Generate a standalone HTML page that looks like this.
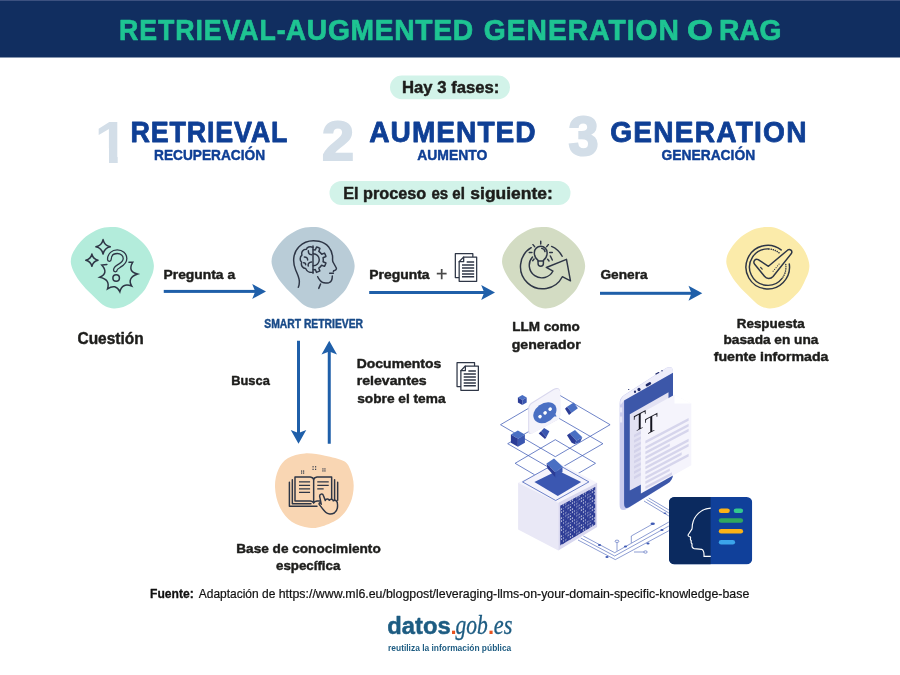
<!DOCTYPE html>
<html lang="es">
<head>
<meta charset="utf-8">
<title>Retrieval-Augmented Generation o RAG</title>
<style>
html,body{margin:0;padding:0;background:#fff;}
body{width:900px;height:675px;overflow:hidden;font-family:"Liberation Sans",sans-serif;}
svg{display:block;will-change:transform;}
text{white-space:pre;}
</style>
</head>
<body>
<svg width="900" height="675" viewBox="0 0 900 675">

<rect x="0" y="0" width="900" height="57.5" fill="#112e60"/>
<rect x="0" y="0" width="900" height="1" fill="#3c5180"/>
<rect x="390" y="75.5" width="120" height="23.7" rx="11.85" fill="#d2f3e9"/>
<rect x="329.5" y="181" width="241" height="24" rx="12" fill="#d2f3e9"/>
<path d="M110.5,227.1C114.4,226.9 118.1,227.1 121.8,228.4C125.6,229.7 129.8,232.4 133.2,234.7C136.5,236.9 139.4,239.4 141.8,241.7C144.3,244.1 146.2,246.2 147.8,248.7C149.5,251.2 150.8,254.0 151.8,256.7C152.8,259.3 153.6,262.2 153.8,264.7C154.1,267.1 153.6,269.2 153.2,271.3C152.7,273.4 152.3,274.4 151.0,277.3C149.7,280.2 147.3,285.6 145.4,288.7C143.5,291.7 141.7,293.4 139.6,295.6C137.4,297.8 135.2,300.1 132.5,302.0C129.8,303.9 126.3,306.0 123.2,307.1C120.1,308.1 116.7,308.5 113.8,308.4C110.9,308.3 108.3,307.6 105.8,306.5C103.4,305.4 101.4,303.6 99.2,301.7C96.9,299.9 94.7,297.5 92.5,295.3C90.3,293.2 87.9,290.9 85.8,288.7C83.8,286.4 81.8,284.2 80.1,282.0C78.4,279.8 76.9,277.6 75.6,275.3C74.3,273.1 73.2,270.9 72.4,268.7C71.6,266.4 70.9,264.2 70.8,262.0C70.7,259.8 71.1,257.6 71.8,255.3C72.6,253.1 73.7,250.9 75.2,248.7C76.6,246.4 78.3,244.0 80.5,241.7C82.7,239.5 85.1,237.2 88.1,235.1C91.1,233.0 94.8,230.5 98.5,229.2C102.2,227.9 106.6,227.2 110.5,227.1Z" fill="#b3ecdb"/>
<path d="M110.5,227.1C114.4,226.9 118.1,227.1 121.8,228.4C125.6,229.7 129.8,232.4 133.2,234.7C136.5,236.9 139.4,239.4 141.8,241.7C144.3,244.1 146.2,246.2 147.8,248.7C149.5,251.2 150.8,254.0 151.8,256.7C152.8,259.3 153.6,262.2 153.8,264.7C154.1,267.1 153.6,269.2 153.2,271.3C152.7,273.4 152.3,274.4 151.0,277.3C149.7,280.2 147.3,285.6 145.4,288.7C143.5,291.7 141.7,293.4 139.6,295.6C137.4,297.8 135.2,300.1 132.5,302.0C129.8,303.9 126.3,306.0 123.2,307.1C120.1,308.1 116.7,308.5 113.8,308.4C110.9,308.3 108.3,307.6 105.8,306.5C103.4,305.4 101.4,303.6 99.2,301.7C96.9,299.9 94.7,297.5 92.5,295.3C90.3,293.2 87.9,290.9 85.8,288.7C83.8,286.4 81.8,284.2 80.1,282.0C78.4,279.8 76.9,277.6 75.6,275.3C74.3,273.1 73.2,270.9 72.4,268.7C71.6,266.4 70.9,264.2 70.8,262.0C70.7,259.8 71.1,257.6 71.8,255.3C72.6,253.1 73.7,250.9 75.2,248.7C76.6,246.4 78.3,244.0 80.5,241.7C82.7,239.5 85.1,237.2 88.1,235.1C91.1,233.0 94.8,230.5 98.5,229.2C102.2,227.9 106.6,227.2 110.5,227.1Z" fill="#b9ccd7" transform="translate(200.75,0)"/>
<path d="M110.5,227.1C114.4,226.9 118.1,227.1 121.8,228.4C125.6,229.7 129.8,232.4 133.2,234.7C136.5,236.9 139.4,239.4 141.8,241.7C144.3,244.1 146.2,246.2 147.8,248.7C149.5,251.2 150.8,254.0 151.8,256.7C152.8,259.3 153.6,262.2 153.8,264.7C154.1,267.1 153.6,269.2 153.2,271.3C152.7,273.4 152.3,274.4 151.0,277.3C149.7,280.2 147.3,285.6 145.4,288.7C143.5,291.7 141.7,293.4 139.6,295.6C137.4,297.8 135.2,300.1 132.5,302.0C129.8,303.9 126.3,306.0 123.2,307.1C120.1,308.1 116.7,308.5 113.8,308.4C110.9,308.3 108.3,307.6 105.8,306.5C103.4,305.4 101.4,303.6 99.2,301.7C96.9,299.9 94.7,297.5 92.5,295.3C90.3,293.2 87.9,290.9 85.8,288.7C83.8,286.4 81.8,284.2 80.1,282.0C78.4,279.8 76.9,277.6 75.6,275.3C74.3,273.1 73.2,270.9 72.4,268.7C71.6,266.4 70.9,264.2 70.8,262.0C70.7,259.8 71.1,257.6 71.8,255.3C72.6,253.1 73.7,250.9 75.2,248.7C76.6,246.4 78.3,244.0 80.5,241.7C82.7,239.5 85.1,237.2 88.1,235.1C91.1,233.0 94.8,230.5 98.5,229.2C102.2,227.9 106.6,227.2 110.5,227.1Z" fill="#d3dcc3" transform="translate(431.25,0)"/>
<path d="M110.5,227.1C114.4,226.9 118.1,227.1 121.8,228.4C125.6,229.7 129.8,232.4 133.2,234.7C136.5,236.9 139.4,239.4 141.8,241.7C144.3,244.1 146.2,246.2 147.8,248.7C149.5,251.2 150.8,254.0 151.8,256.7C152.8,259.3 153.6,262.2 153.8,264.7C154.1,267.1 153.6,269.2 153.2,271.3C152.7,273.4 152.3,274.4 151.0,277.3C149.7,280.2 147.3,285.6 145.4,288.7C143.5,291.7 141.7,293.4 139.6,295.6C137.4,297.8 135.2,300.1 132.5,302.0C129.8,303.9 126.3,306.0 123.2,307.1C120.1,308.1 116.7,308.5 113.8,308.4C110.9,308.3 108.3,307.6 105.8,306.5C103.4,305.4 101.4,303.6 99.2,301.7C96.9,299.9 94.7,297.5 92.5,295.3C90.3,293.2 87.9,290.9 85.8,288.7C83.8,286.4 81.8,284.2 80.1,282.0C78.4,279.8 76.9,277.6 75.6,275.3C74.3,273.1 73.2,270.9 72.4,268.7C71.6,266.4 70.9,264.2 70.8,262.0C70.7,259.8 71.1,257.6 71.8,255.3C72.6,253.1 73.7,250.9 75.2,248.7C76.6,246.4 78.3,244.0 80.5,241.7C82.7,239.5 85.1,237.2 88.1,235.1C91.1,233.0 94.8,230.5 98.5,229.2C102.2,227.9 106.6,227.2 110.5,227.1Z" fill="#fbebaa" transform="translate(655.5,0)"/>
<path d="M275.0,487.0C274.8,480.8 276.2,474.5 278.3,469.7C280.4,464.9 283.2,461.0 287.7,458.3C292.1,455.6 298.8,453.8 305.0,453.4C311.2,453.0 318.6,454.4 325.0,455.7C331.4,457.0 339.5,458.7 343.7,461.0C347.9,463.3 348.6,465.6 350.3,469.7C352.0,473.8 353.7,480.1 353.7,485.7C353.7,491.2 352.6,497.7 350.3,503.0C348.0,508.3 344.4,513.8 339.7,517.7C335.0,521.6 327.4,524.6 322.3,526.3C317.2,528.0 314.1,528.5 309.0,527.7C303.9,526.9 296.6,525.2 291.7,521.7C286.8,518.2 282.5,512.8 279.7,507.0C276.9,501.2 275.2,493.2 275.0,487.0Z" fill="#f9d6b3"/>
<rect x="163.75" y="289.9" width="91.95" height="3" fill="#1f5fa9"/><path d="M266,291.4 L252.2,283.9 L255.2,291.4 L252.2,298.9 Z" fill="#1f5fa9"/>
<rect x="369.2" y="291.0" width="115.50" height="3" fill="#1f5fa9"/><path d="M495,292.5 L481.2,285.0 L484.2,292.5 L481.2,300.0 Z" fill="#1f5fa9"/>
<rect x="600" y="291.8" width="92.00" height="3" fill="#1f5fa9"/><path d="M702.3,293.3 L688.5,285.8 L691.5,293.3 L688.5,300.8 Z" fill="#1f5fa9"/>
<rect x="297.0" y="340.75" width="3" height="92.70" fill="#1f5fa9"/><path d="M298.5,443.75 L290.75,429.95 L298.5,432.95 L306.25,429.95 Z" fill="#1f5fa9"/>
<rect x="327.75" y="351.05" width="3" height="92.70" fill="#1f5fa9"/><path d="M329.25,340.75 L321.5,354.55 L329.25,351.55 L337.0,354.55 Z" fill="#1f5fa9"/>

<g transform="translate(66,222) scale(0.13630)" fill="none" stroke="#2e3646" stroke-width="11" stroke-linecap="round" stroke-linejoin="round" >
<path d="M272,129 Q281.54,172.46 325,182 Q281.54,191.54 272,235 Q262.46,191.54 219,182 Q262.46,172.46 272,129 Z"/>
<path d="M190,235 Q198.1,271.9 235,280 Q198.1,288.1 190,325 Q181.9,288.1 145,280 Q181.9,271.9 190,235 Z"/>
<path d="M318,276 C318,238 345,218 376,218 C408,218 433,240 433,268 C433,298 410,310 390,322 C372,333 362,342 362,352" stroke-width="36"/>
<path d="M318,276 C318,238 345,218 376,218 C408,218 433,240 433,268 C433,298 410,310 390,322 C372,333 362,342 362,352" stroke="#b3ecdb" stroke-width="17"/>
<circle cx="368" cy="411" r="24"/>
<path d="M300,311 L262,316 Q315,375 248,405 Q326,421 305,490 Q365,450 395,512 Q412,444 482,470 Q446,410 525,382 Q449,364 490,295 L462,296" stroke-linejoin="miter"/>
</g><g transform="translate(263,222) scale(0.13333)" fill="none" stroke="#2e3646" stroke-width="11" stroke-linecap="round" stroke-linejoin="round" >
<path d="M265,490 C285,440 262,400 245,360 C220,300 225,230 270,185 C310,145 370,135 420,145 C480,158 520,205 522,265 C522,285 520,292 525,300 L550,345 C553,355 545,362 530,365 L528,372"/>
<path d="M500,385 L528,385"/>
<path d="M520,405 C520,430 512,450 495,455 C470,460 440,455 430,440 C420,428 412,418 410,410"/>
<path d="M432,465 L418,498"/>
<path d="M375,180 L375,385" stroke-width="11"/>
<path d="M375,190 C350,180 330,188 325,205 C300,205 285,225 292,248 C275,262 275,290 290,302 C282,325 298,348 320,348 C328,368 350,382 375,376"/>
<path d="M340,215 C340,235 350,245 365,245 M310,262 C325,262 335,272 335,285 M365,300 C345,300 335,315 340,330 M305,305 C315,305 320,312 320,320"/>
<path d="M377,208 A75,75 0 0 1 392.0,209.5 L401.5,188.1 A98,98 0 0 1 426.7,198.6 L418.4,220.5 A75,75 0 0 1 439.5,241.6 L461.4,233.3 A98,98 0 0 1 471.9,258.5 L450.5,268.0 A75,75 0 0 1 450.5,298.0 L471.9,307.5 A98,98 0 0 1 461.4,332.7 L439.5,324.4 A75,75 0 0 1 418.4,345.5 L426.7,367.4 A98,98 0 0 1 401.5,377.9 L392.0,356.5 A75,75 0 0 1 377,358"/>
<path d="M377,238 A45,45 0 0 1 377,328"/>
</g><g transform="translate(493,222) scale(0.13333)" fill="none" stroke="#2e3646" stroke-width="11" stroke-linecap="round" stroke-linejoin="round" >
<path d="M286.5,192.7 A166,166 0 1 0 519.9,410.4 L581,441 L551,280 L400,341 L449.8,367.7 A94,94 0 1 1 296.1,262.1"/>
<path d="M439.5,183.4 A166,166 0 0 1 518.6,257.1"/>
<path d="M338,288 C320,275 310,252 310,230 A48,48 0 0 1 406,230 C406,252 396,275 378,288 L378,312 A20,20 0 0 1 338,312 Z"/>
<path d="M338,292 L378,292"/>
<path d="M365,198 C378,200 388,210 390,222"/>
<path d="M358,145 L358,165 M300,170 L312,185 M415,170 L403,185 M272,228 L292,228 M425,228 L445,228 M298,290 L308,278 M410,280 L420,292 M430,255 L445,285"/>
</g><g transform="translate(740,240) scale(0.08889)" fill="none" stroke="#2e3646" stroke-width="16.5" stroke-linecap="round" stroke-linejoin="round" >
<path d="M554.6,270.9 A245,245 0 1 1 462.8,111.9" />
<path d="M473.5,431.2 A205,205 0 1 1 319.2,100.1" />
<path d="M326.3,100.5 A205,205 0 0 1 443.8,148.0" stroke-dasharray="2 22"/>
<path d="M515.0,276.5 A205,205 0 0 1 477.8,425.5" stroke-dasharray="2 22"/>
<path d="M205,222 L320,296 L538,112 C560,96 596,120 578,152 L372,410 C345,440 300,440 275,408 L165,272 C140,240 175,205 205,222 Z" fill="#fbebaa"/>
<path d="M232,308 L250,328" stroke-width="13"/>
<path d="M372,352 L440,270" stroke-dasharray="2 24" stroke-width="12"/>
</g><g transform="translate(265,447) scale(0.13333)" fill="none" stroke="#2e3646" stroke-width="11" stroke-linecap="round" stroke-linejoin="round" >
<path d="M205,245 L205,425 L345,425 M183,265 L183,445 L390,445 M522,245 L522,400 M545,265 L545,400"/>
<path d="M225,225 L340,225 Q362,228 365,245 Q368,228 390,225 L500,225 L500,405 L390,405 Q370,408 365,420 Q360,408 340,405 L225,405 Z"/>
<path d="M365,245 L365,418"/>
<path d="M255,262 L338,262 M255,288 L338,288 M255,314 L338,314 M255,340 L338,340 M392,262 L478,262 M392,288 L478,288 M392,314 L440,314" stroke-width="9" stroke-linecap="butt"/>
<path d="M422,430 L410,370 C408,352 432,346 438,364 L452,402 C456,386 478,386 482,400 C490,386 510,390 512,404 C524,394 540,402 542,418 C548,450 540,480 520,495 C500,505 470,505 455,490 C440,475 418,445 408,432 C400,420 414,410 422,430 Z" fill="#f9d6b3"/>
<rect x="270.0" y="176.0" width="9" height="9" fill="#2e3646" stroke="none"/><rect x="270.0" y="191.0" width="9" height="9" fill="#2e3646" stroke="none"/><rect x="285.0" y="176.0" width="9" height="9" fill="#2e3646" stroke="none"/><rect x="285.0" y="191.0" width="9" height="9" fill="#2e3646" stroke="none"/><rect x="356.0" y="144.0" width="9" height="9" fill="#2e3646" stroke="none"/><rect x="356.0" y="163.0" width="9" height="9" fill="#2e3646" stroke="none"/><rect x="375.0" y="144.0" width="9" height="9" fill="#2e3646" stroke="none"/><rect x="375.0" y="163.0" width="9" height="9" fill="#2e3646" stroke="none"/><rect x="430.0" y="160.0" width="9" height="9" fill="#2e3646" stroke="none"/><rect x="430.0" y="175.0" width="9" height="9" fill="#2e3646" stroke="none"/><rect x="445.0" y="160.0" width="9" height="9" fill="#2e3646" stroke="none"/><rect x="445.0" y="175.0" width="9" height="9" fill="#2e3646" stroke="none"/>
</g><g transform="translate(350,250) scale(0.16667)" fill="none" stroke="#2e3646" stroke-width="7.5" stroke-linecap="round" stroke-linejoin="round" >
<path d="M655,165 L632,165 L632,22 L737,22 L737,42"/>
<path d="M682,42 L760,42 L760,188 L655,188 L655,70 Z" fill="#fff"/>
<path d="M682,42 L682,70 L655,70"/>
<path d="M700,72 L745,72 M672,90 L745,90 M672,108 L745,108 M672,126 L745,126 M672,143.5 L745,143.5 M672,161 L745,161" stroke-width="9" stroke-linecap="butt"/>
</g><g transform="translate(351.7,359) scale(0.16667)" fill="none" stroke="#2e3646" stroke-width="7.5" stroke-linecap="round" stroke-linejoin="round" >
<path d="M655,165 L632,165 L632,22 L737,22 L737,42"/>
<path d="M682,42 L760,42 L760,188 L655,188 L655,70 Z" fill="#fff"/>
<path d="M682,42 L682,70 L655,70"/>
<path d="M700,72 L745,72 M672,90 L745,90 M672,108 L745,108 M672,126 L745,126 M672,143.5 L745,143.5 M672,161 L745,161" stroke-width="9" stroke-linecap="butt"/>
</g>
<g id="illustration"><g fill="none" stroke="#3f5bb5" stroke-width="0.6"><path d="M583.3,536.0 L614.7,552.7 L668.9,522.0"/><path d="M580.7,538.0 L614.7,556.0 L668.9,526.0"/><path d="M578.0,540.0 L615.3,559.6 L668.9,530.7"/><path d="M648.7,498.0 L668.9,510.0"/><path d="M646.5,499.5 L668.9,513.0"/><path d="M644.0,501.0 L668.9,516.0"/><path d="M631.3,542.9 L631.3,536.0 L652.7,524.0"/><path d="M617.0,550.7 L617.0,542.5"/><path d="M634.0,552.0 L644.0,552.0"/><ellipse cx="617" cy="541.3" rx="1.9" ry="1.2" fill="#fff"/><ellipse cx="645.5" cy="552" rx="1.7" ry="1.2" fill="#fff"/><g fill="#3f5bb5" stroke="none"><ellipse cx="652.7" cy="523.8" rx="2.2" ry="1.3"/><ellipse cx="599.5" cy="545" rx="1.6" ry="0.9"/><ellipse cx="625.5" cy="546.5" rx="1.6" ry="0.9"/><ellipse cx="648" cy="543.5" rx="1.6" ry="0.9"/><ellipse cx="662" cy="530" rx="1.6" ry="0.9"/><ellipse cx="607" cy="557" rx="1.6" ry="0.9"/><ellipse cx="665" cy="513.2" rx="1.4" ry="0.8"/></g></g><g fill="none" stroke="#3f5bb5" stroke-width="0.75"><path d="M500.49999999999994,424.7 L555.3,392.7 L610.0999999999999,424.7 L555.3,456.7 Z"/><path d="M507.69999999999993,443.7 L555.3,416.2 L602.9,443.7 L555.3,471.2 Z"/><path d="M515.0999999999999,463.3 L555.3,439.7 L595.5,463.3 L555.3,486.90000000000003 Z"/></g><path d="M518.1,482.7 L558.3,462.5 L597.1,482.7 L558.3,502.8 Z" fill="#f5f4fc" /><path d="M518.1,482.7 L558.3,502.8 L558.3,550.5 L518.1,529.6 Z" fill="#e9e8f6" /><path d="M558.3,502.8 L597.1,482.7 L597.1,527.0 L558.3,550.5 Z" fill="#d9d8ef" /><path d="M522.5,481.9 L555.7,463.29999999999995 L588.9000000000001,481.9 L555.7,500.5 Z" fill="none" stroke="#3f5bb5" stroke-width="0.75"/><path d="M534.4,481.9 L557.8,470.5 L581.2,481.9 L557.8,496.0 Z" fill="#3b57b1" /><defs><pattern id="dots" width="2.2" height="3" patternUnits="userSpaceOnUse" patternTransform="matrix(1,-0.55,0,1,560.5,505.5)"><rect x="0.5" y="0.4" width="0.9" height="1.5" fill="#fff" opacity="0.85"/></pattern><pattern id="dots2" width="6.6" height="9" patternUnits="userSpaceOnUse" patternTransform="matrix(1,-0.55,0,1,560.5,505.5)"><rect x="0" y="0" width="2.2" height="3" fill="#2c3b95"/><rect x="4.4" y="6" width="2.2" height="3" fill="#2c3b95"/><rect x="2.2" y="3" width="2.2" height="1.5" fill="#2c3b95"/></pattern></defs><path d="M560.3,505.8 L595.2,487.0 L595.2,524.5 L560.3,545.5 Z" fill="#2c3b95" /><path d="M560.3,505.8 L595.2,487.0 L595.2,524.5 L560.3,545.5 Z" fill="url(#dots)" /><path d="M560.3,505.8 L595.2,487.0 L595.2,524.5 L560.3,545.5 Z" fill="url(#dots2)" /><path d="M546.5,463.5 L554.0,458.5 L562.5,466.5 L555.5,472.5 Z" fill="#4a6fc3" /><path d="M546.5,463.5 L555.5,472.5 L555.5,477.5 L547.5,468.5 Z" fill="#2b3c96" /><path d="M555.5,472.5 L562.5,466.5 L562.5,472.0 L555.5,477.5 Z" fill="#3a56b0" /><path d="M517.9,397.4 L522.3,394.9 L526.7,397.4 L522.3,400.0 Z" fill="#4a6fc3" /><path d="M517.9,397.4 L522.3,400.0 L522.3,405.1 L517.9,402.6 Z" fill="#2b3c96" /><path d="M522.3,400.0 L526.7,397.4 L526.7,402.6 L522.3,405.1 Z" fill="#3a56b0" /><path d="M567.0,406.7 L573.7,402.4 L577.9,408.3 L571.7,412.7 Z" fill="#4a6fc3" /><path d="M565.0,408.7 L567.0,406.7 L571.7,412.7 L569.0,414.9 Z" fill="#2b3c96" /><path d="M510.9,434.6 L517.9,430.5 L524.9,434.6 L517.9,438.7 Z" fill="#4a6fc3" /><path d="M510.9,434.6 L517.9,438.7 L517.9,446.8 L510.9,442.7 Z" fill="#2b3c96" /><path d="M517.9,438.7 L524.9,434.6 L524.9,442.7 L517.9,446.8 Z" fill="#3a56b0" /><path d="M541.0,431.3 L544.1,428.0 L549.4,431.3 L546.3,437.3 Z" fill="#3a56b0" /><path d="M538.7,433.6 L541.0,431.3 L546.3,437.3 L545.0,438.9 Z" fill="#2b3c96" /><path d="M569.7,433.3 L575.0,430.0 L582.3,437.3 L576.3,440.7 Z" fill="#4a6fc3" /><path d="M567.0,435.3 L569.7,433.3 L576.3,440.7 L575.0,444.3 L571.7,442.7 Z" fill="#2b3c96" /><path d="M576.3,440.7 L582.3,437.3 L580.3,442.0 L575.0,444.3 Z" fill="#3a56b0" /><path d="M528.2,408.4 Q528.2,404.4 532.0,402.2 L553.3,388.9 Q560.0,386.2 560.2,392.4 L560.2,415.6 Q560.2,418.2 557.8,419.7 L532.4,433.3 Q528.2,435.6 528.2,431.1 Z" fill="#d9d8ee"/><path d="M529.2,408.9 Q529.2,405.3 532.6,403.3 L553.8,390.0 Q560.2,387.1 560.2,392.9 L560.2,415.6 Q560.2,418.2 557.8,419.7 L532.9,433.2 Q529.2,435.1 529.2,431.1 Z" fill="#f4f3fb"/><g transform="translate(544.9,412.7) rotate(-36)"><ellipse cx="0" cy="0" rx="12.6" ry="9.3" fill="#4a6fc3"/></g><path d="M551.1,416.4 L556.6,416.6 L553.8,410.7 Z" fill="#4a6fc3"/><g transform="translate(544.9,412.7) rotate(-36)"><ellipse cx="-6.2" cy="0.2" rx="1.9" ry="1.7" fill="#fff"/><ellipse cx="0.1" cy="0.2" rx="1.9" ry="1.7" fill="#fff"/><ellipse cx="6.3" cy="0.2" rx="1.9" ry="1.7" fill="#fff"/></g><path d="M619.6,403.5 Q619.6,398 624.5,394.8 L666,368 Q673,364.5 673,372 L673,474 Q673,480.5 667.5,483.8 L627.5,508.5 Q619.6,513 619.6,504.5 Z" fill="#c9cbee"/><path d="M620.2,402.8 Q620.5,398 624.8,395 L666,368.3 Q672.6,365 673,371.5 L673,373 L624.1,400.6 L620.5,405 Z" fill="#eeeefa"/><path d="M624.1,400.4 L673,372.7 L673,473.5 Q673,480.3 667.5,483.6 L629.5,507 Q624.1,510 624.1,503.5 Z" fill="#3c57a9"/><rect x="619.8" y="407.4" width="2.4" height="5" fill="#e8e8f8"/><rect x="619.8" y="416.5" width="2.4" height="6" fill="#e8e8f8"/><g fill="#1f2a6b"><ellipse cx="628.7" cy="389.5" rx="0.7" ry="0.5"/><ellipse cx="635" cy="391.8" rx="1.1" ry="1.2"/><ellipse cx="639" cy="389.5" rx="1.6" ry="1.7"/><rect x="-3" y="-1.3" width="6" height="2.6" rx="1.3" transform="translate(648.4,384.3) rotate(-29)"/><rect x="-2.2" y="-0.6" width="4.4" height="1.2" rx="0.6" transform="translate(657.3,373.3) rotate(-29)"/><ellipse cx="662" cy="370.8" rx="0.7" ry="0.7"/></g><path d="M629.8,414.2 L668.5,392.3 L668.5,470.0 L629.8,490.6 Z" fill="#e3e2f3" /><path d="M634.0,434.8 L641.2,431.0 L641.2,433.7 L634.0,437.6 Z" fill="#d3d2ea" /><path d="M634.0,440.0 L641.2,436.2 L641.2,438.9 L634.0,442.8 Z" fill="#d3d2ea" /><path d="M634.0,445.2 L641.2,441.4 L641.2,444.1 L634.0,448.0 Z" fill="#d3d2ea" /><path d="M634.0,450.4 L641.2,446.6 L641.2,449.3 L634.0,453.2 Z" fill="#d3d2ea" /><path d="M634.0,455.6 L641.2,451.8 L641.2,454.5 L634.0,458.4 Z" fill="#d3d2ea" /><path d="M634.0,460.8 L641.2,457.0 L641.2,459.7 L634.0,463.6 Z" fill="#d3d2ea" /><path d="M634.0,466.0 L641.2,462.2 L641.2,464.9 L634.0,468.8 Z" fill="#d3d2ea" /><path d="M634.0,471.2 L641.2,467.4 L641.2,470.1 L634.0,474.0 Z" fill="#d3d2ea" /><path d="M634.0,476.4 L641.2,472.6 L641.2,475.3 L634.0,479.2 Z" fill="#d3d2ea" /><path d="M640.9,413.2 L674.5,394.8 L691.3,403.5 L691.3,465.2 L640.9,493.4 Z" fill="#f5f4fc" /><path d="M674.5,394.8 L691.3,403.5 L674.5,403.5 Z" fill="#ffffff" /><path d="M645.4,440.8 L688.6,418.0 L688.6,420.7 L645.4,443.6 Z" fill="#d6d5ec" /><path d="M645.4,446.5 L688.6,423.7 L688.6,426.4 L645.4,449.2 Z" fill="#d6d5ec" /><path d="M645.4,451.5 L688.6,428.7 L688.6,431.4 L645.4,454.2 Z" fill="#d6d5ec" /><path d="M645.4,456.5 L669.8,443.6 L669.8,446.3 L645.4,459.2 Z" fill="#d6d5ec" /><path d="M645.4,461.6 L688.6,438.8 L688.6,441.5 L645.4,464.4 Z" fill="#d6d5ec" /><path d="M645.4,466.5 L688.6,443.7 L688.6,446.4 L645.4,469.2 Z" fill="#d6d5ec" /><path d="M645.4,471.5 L681.7,452.3 L681.7,455.0 L645.4,474.2 Z" fill="#d6d5ec" /><path d="M645.4,476.5 L688.6,453.7 L688.6,456.4 L645.4,479.2 Z" fill="#d6d5ec" /><path d="M645.4,481.3 L669.8,468.4 L669.8,471.1 L645.4,484.1 Z" fill="#d6d5ec" /><path d="M645.4,486.2 L672.0,472.2 L672.0,474.9 L645.4,489.0 Z" fill="#d6d5ec" /><text transform="translate(633.4,432.8) skewY(-28)" font-family="'Liberation Serif', serif" font-size="25" fill="#14141e" textLength="12.5" lengthAdjust="spacingAndGlyphs">T</text><text transform="translate(644.8,435.8) skewY(-28)" font-family="'Liberation Serif', serif" font-size="25" fill="#14141e" textLength="13" lengthAdjust="spacingAndGlyphs">T</text><clipPath id="cardclip"><rect x="669" y="496.9" width="83.2" height="67.5" rx="5.5"/></clipPath><g clip-path="url(#cardclip)"><rect x="669" y="496.9" width="83.3" height="67.5" fill="#10409a"/><rect x="669" y="496.9" width="41.6" height="67.5" fill="#0b2a5f"/></g><g transform="translate(600,480) scale(0.17778)" fill="none" stroke="#fff" stroke-width="6.5" stroke-linejoin="round" stroke-linecap="butt"><path d="M623,158 C570,160 528,200 520,250 C518,262 520,270 516,278 L496,308 C494,314 500,318 508,320 L510,326 C506,332 510,338 514,342 C510,350 514,356 518,360 C516,372 518,384 530,386 L572,390 C582,394 586,410 585,430 L623,430"/></g><rect x="718.8" y="508.4" width="11" height="4.6" rx="2.3" fill="#fbb216"/><rect x="733.7" y="508.4" width="9.4" height="4.6" rx="2.3" fill="#33c98e"/><rect x="718.8" y="518.2" width="24.3" height="4.6" rx="2.3" fill="#2fa85f"/><rect x="718.8" y="529" width="24.3" height="4.6" rx="2.3" fill="#fbb216"/><rect x="718.8" y="539.9" width="16.3" height="4.6" rx="2.3" fill="#3ba4ea"/></g>
<g id="labels"><text transform="translate(119.10,39.80) scale(0.88,1)" font-family="'Liberation Sans', sans-serif" font-size="30.38" font-weight="bold" fill="#1ec492" stroke="#1ec492" stroke-width="0.7" stroke-linejoin="round" textLength="189.38" lengthAdjust="spacing">RETRIEVAL-</text>
<text transform="translate(285.80,39.80) scale(0.93,1)" font-family="'Liberation Sans', sans-serif" font-size="30.38" font-weight="bold" fill="#1ec492" stroke="#1ec492" stroke-width="0.7" stroke-linejoin="round" textLength="201.39" lengthAdjust="spacing">AUGMENTED</text>
<text transform="translate(483.75,39.80) scale(0.93,1)" font-family="'Liberation Sans', sans-serif" font-size="30.38" font-weight="bold" fill="#1ec492" stroke="#1ec492" stroke-width="0.7" stroke-linejoin="round" textLength="209.91" lengthAdjust="spacing">GENERATION</text>
<text x="687.00" y="39.80" font-family="'Liberation Sans', sans-serif" font-size="30.38" font-weight="bold" fill="#1ec492" stroke="#1ec492" stroke-width="0.7" stroke-linejoin="round" textLength="25.92" lengthAdjust="spacingAndGlyphs">O</text>
<text transform="translate(719.00,39.80) scale(0.93,1)" font-family="'Liberation Sans', sans-serif" font-size="30.38" font-weight="bold" fill="#1ec492" stroke="#1ec492" stroke-width="0.7" stroke-linejoin="round" textLength="67.24" lengthAdjust="spacing">RAG</text>
<text x="402.00" y="93.15" font-family="'Liberation Sans', sans-serif" font-size="16.22" font-weight="bold" fill="#1d1d1b" stroke="#1d1d1b" stroke-width="0.45" stroke-linejoin="round" textLength="97.39" lengthAdjust="spacingAndGlyphs">Hay 3 fases:</text>
<clipPath id="oneclip"><path d="M90,110 L117.7,110 L117.7,163.3 L109,163.3 L109,148 L90,148 Z"/></clipPath><g clip-path="url(#oneclip)"><text transform="translate(94.60,163.20) scale(1.06,1)" font-family="'Liberation Sans', sans-serif" font-weight="bold" font-size="58.3" fill="#d3dee8">1</text></g>
<text transform="translate(130.60,141.70) scale(0.9,1)" font-family="'Liberation Sans', sans-serif" font-size="29.94" font-weight="bold" fill="#0f3f95" stroke="#0f3f95" stroke-width="0.8" stroke-linejoin="round" textLength="174.37" lengthAdjust="spacing">RETRIEVAL</text>
<text x="154.05" y="159.70" font-family="'Liberation Sans', sans-serif" font-size="14.39" font-weight="bold" fill="#0f3f95" stroke="#0f3f95" stroke-width="0.45" stroke-linejoin="round" textLength="110.99" lengthAdjust="spacingAndGlyphs">RECUPERACIÓN</text>
<text x="321.90" y="160.00" font-family="'Liberation Sans', sans-serif" font-size="56.00" font-weight="bold" fill="#d3dee8" stroke="#d3dee8" stroke-width="2.0" stroke-linejoin="miter" textLength="32.07" lengthAdjust="spacingAndGlyphs">2</text>
<text transform="translate(369.25,141.70) scale(0.94,1)" font-family="'Liberation Sans', sans-serif" font-size="29.94" font-weight="bold" fill="#0f3f95" stroke="#0f3f95" stroke-width="0.8" stroke-linejoin="round" textLength="177.06" lengthAdjust="spacing">AUMENTED</text>
<text x="417.25" y="159.70" font-family="'Liberation Sans', sans-serif" font-size="14.39" font-weight="bold" fill="#0f3f95" stroke="#0f3f95" stroke-width="0.45" stroke-linejoin="round" textLength="70.15" lengthAdjust="spacingAndGlyphs">AUMENTO</text>
<text x="568.50" y="154.70" font-family="'Liberation Sans', sans-serif" font-size="56.00" font-weight="bold" fill="#d3dee8" stroke="#d3dee8" stroke-width="2.0" stroke-linejoin="miter" textLength="30.11" lengthAdjust="spacingAndGlyphs">3</text>
<text transform="translate(610.25,141.70) scale(0.94,1)" font-family="'Liberation Sans', sans-serif" font-size="29.94" font-weight="bold" fill="#0f3f95" stroke="#0f3f95" stroke-width="0.8" stroke-linejoin="round" textLength="208.77" lengthAdjust="spacing">GENERATION</text>
<text x="661.50" y="159.70" font-family="'Liberation Sans', sans-serif" font-size="14.39" font-weight="bold" fill="#0f3f95" stroke="#0f3f95" stroke-width="0.45" stroke-linejoin="round" textLength="93.66" lengthAdjust="spacingAndGlyphs">GENERACIÓN</text>
<text x="343.15" y="198.65" font-family="'Liberation Sans', sans-serif" font-size="16.22" font-weight="bold" fill="#1d1d1b" stroke="#1d1d1b" stroke-width="0.45" stroke-linejoin="round" textLength="83.00" lengthAdjust="spacingAndGlyphs">El proceso</text>
<text x="431.40" y="198.65" font-family="'Liberation Sans', sans-serif" font-size="16.22" font-weight="bold" fill="#1d1d1b" stroke="#1d1d1b" stroke-width="0.45" stroke-linejoin="round" textLength="33.46" lengthAdjust="spacingAndGlyphs">es el</text>
<text x="470.30" y="198.65" font-family="'Liberation Sans', sans-serif" font-size="16.22" font-weight="bold" fill="#1d1d1b" stroke="#1d1d1b" stroke-width="0.45" stroke-linejoin="round" textLength="82.60" lengthAdjust="spacingAndGlyphs">siguiente:</text>
<text x="163.50" y="278.50" font-family="'Liberation Sans', sans-serif" font-size="13.52" font-weight="bold" fill="#1d1d1b" stroke="#1d1d1b" stroke-width="0.45" stroke-linejoin="round" textLength="71.62" lengthAdjust="spacingAndGlyphs">Pregunta a</text>
<text x="77.50" y="343.65" font-family="'Liberation Sans', sans-serif" font-size="16.49" font-weight="bold" fill="#1d1d1b" stroke="#1d1d1b" stroke-width="0.45" stroke-linejoin="round" textLength="66.20" lengthAdjust="spacingAndGlyphs">Cuestión</text>
<text x="264.25" y="328.25" font-family="'Liberation Sans', sans-serif" font-size="12.06" font-weight="bold" fill="#184a88" stroke="#184a88" stroke-width="0.45" stroke-linejoin="round" textLength="98.82" lengthAdjust="spacingAndGlyphs">SMART RETRIEVER</text>
<text x="369.25" y="278.50" font-family="'Liberation Sans', sans-serif" font-size="13.52" font-weight="bold" fill="#1d1d1b" stroke="#1d1d1b" stroke-width="0.45" stroke-linejoin="round" textLength="60.34" lengthAdjust="spacingAndGlyphs">Pregunta</text>
<text x="512.25" y="331.00" font-family="'Liberation Sans', sans-serif" font-size="13.52" font-weight="bold" fill="#1d1d1b" stroke="#1d1d1b" stroke-width="0.45" stroke-linejoin="round" textLength="67.58" lengthAdjust="spacingAndGlyphs">LLM como</text>
<text x="511.75" y="348.70" font-family="'Liberation Sans', sans-serif" font-size="13.52" font-weight="bold" fill="#1d1d1b" stroke="#1d1d1b" stroke-width="0.45" stroke-linejoin="round" textLength="68.86" lengthAdjust="spacingAndGlyphs">generador</text>
<text x="600.50" y="278.50" font-family="'Liberation Sans', sans-serif" font-size="13.52" font-weight="bold" fill="#1d1d1b" stroke="#1d1d1b" stroke-width="0.45" stroke-linejoin="round" textLength="47.09" lengthAdjust="spacingAndGlyphs">Genera</text>
<text x="736.75" y="328.15" font-family="'Liberation Sans', sans-serif" font-size="13.52" font-weight="bold" fill="#1d1d1b" stroke="#1d1d1b" stroke-width="0.45" stroke-linejoin="round" textLength="67.86" lengthAdjust="spacingAndGlyphs">Respuesta</text>
<text x="723.50" y="344.40" font-family="'Liberation Sans', sans-serif" font-size="13.52" font-weight="bold" fill="#1d1d1b" stroke="#1d1d1b" stroke-width="0.45" stroke-linejoin="round" textLength="94.89" lengthAdjust="spacingAndGlyphs">basada en una</text>
<text x="713.75" y="360.65" font-family="'Liberation Sans', sans-serif" font-size="13.52" font-weight="bold" fill="#1d1d1b" stroke="#1d1d1b" stroke-width="0.45" stroke-linejoin="round" textLength="114.62" lengthAdjust="spacingAndGlyphs">fuente informada</text>
<text x="231.25" y="385.40" font-family="'Liberation Sans', sans-serif" font-size="13.52" font-weight="bold" fill="#1d1d1b" stroke="#1d1d1b" stroke-width="0.45" stroke-linejoin="round" textLength="38.56" lengthAdjust="spacingAndGlyphs">Busca</text>
<text x="356.75" y="367.50" font-family="'Liberation Sans', sans-serif" font-size="13.52" font-weight="bold" fill="#1d1d1b" stroke="#1d1d1b" stroke-width="0.45" stroke-linejoin="round" textLength="84.50" lengthAdjust="spacingAndGlyphs">Documentos</text>
<text x="356.75" y="385.10" font-family="'Liberation Sans', sans-serif" font-size="13.52" font-weight="bold" fill="#1d1d1b" stroke="#1d1d1b" stroke-width="0.45" stroke-linejoin="round" textLength="69.83" lengthAdjust="spacingAndGlyphs">relevantes</text>
<text x="357.25" y="402.60" font-family="'Liberation Sans', sans-serif" font-size="13.52" font-weight="bold" fill="#1d1d1b" stroke="#1d1d1b" stroke-width="0.45" stroke-linejoin="round" textLength="88.24" lengthAdjust="spacingAndGlyphs">sobre el tema</text>
<text x="236.25" y="552.50" font-family="'Liberation Sans', sans-serif" font-size="13.52" font-weight="bold" fill="#1d1d1b" stroke="#1d1d1b" stroke-width="0.45" stroke-linejoin="round" textLength="144.46" lengthAdjust="spacingAndGlyphs">Base de conocimiento</text>
<text x="276.00" y="569.90" font-family="'Liberation Sans', sans-serif" font-size="13.52" font-weight="bold" fill="#1d1d1b" stroke="#1d1d1b" stroke-width="0.45" stroke-linejoin="round" textLength="64.38" lengthAdjust="spacingAndGlyphs">específica</text>
<text x="150.00" y="598.00" font-family="'Liberation Sans', sans-serif" font-size="12.03" font-weight="bold" fill="#111" stroke="#111" stroke-width="0.3" stroke-linejoin="round" textLength="43.66" lengthAdjust="spacingAndGlyphs">Fuente:</text>
<text x="198.75" y="598.00" font-family="'Liberation Sans', sans-serif" font-size="12.03" fill="#111" stroke="#111" stroke-width="0.2" stroke-linejoin="round" textLength="76.59" lengthAdjust="spacingAndGlyphs">Adaptación de</text>
<text x="278.75" y="598.00" font-family="'Liberation Sans', sans-serif" font-size="12.03" fill="#111" stroke="#111" stroke-width="0.2" stroke-linejoin="round" textLength="470.50" lengthAdjust="spacingAndGlyphs">https://www.ml6.eu/blogpost/leveraging-llms-on-your-domain-specific-knowledge-base</text>
<text x="387.35" y="634.30" font-family="'Liberation Sans', sans-serif" font-size="24.60" font-weight="bold" fill="#1d5c82" stroke="#1d5c82" stroke-width="0.5" stroke-linejoin="round" textLength="63.34" lengthAdjust="spacingAndGlyphs">datos</text>
<text x="455.40" y="634.30" font-family="'Liberation Serif', serif" font-size="27.50" font-style="italic" fill="#1d5c82" stroke="#1d5c82" stroke-width="0.35" stroke-linejoin="round" textLength="32.24" lengthAdjust="spacingAndGlyphs">gob</text>
<text x="493.80" y="634.30" font-family="'Liberation Serif', serif" font-size="27.50" font-style="italic" fill="#1d5c82" stroke="#1d5c82" stroke-width="0.35" stroke-linejoin="round" textLength="18.61" lengthAdjust="spacingAndGlyphs">es</text>
<text x="388.10" y="650.60" font-family="'Liberation Sans', sans-serif" font-size="9.30" font-weight="bold" fill="#1d5c82" textLength="123.18" lengthAdjust="spacingAndGlyphs">reutiliza la información pública</text>
<text x="436.1" y="281.1" stroke="#4a4a4a" stroke-width="0.25" font-family="'Liberation Sans', sans-serif" font-size="19.5" fill="#4a4a4a">+</text><text x="450.6" y="634.3" font-family="'Liberation Sans', sans-serif" font-weight="bold" font-size="22" fill="#e8531f">.</text><text x="487.9" y="634.3" font-family="'Liberation Sans', sans-serif" font-weight="bold" font-size="22" fill="#e8531f">.</text></g>
</svg>
</body>
</html>
